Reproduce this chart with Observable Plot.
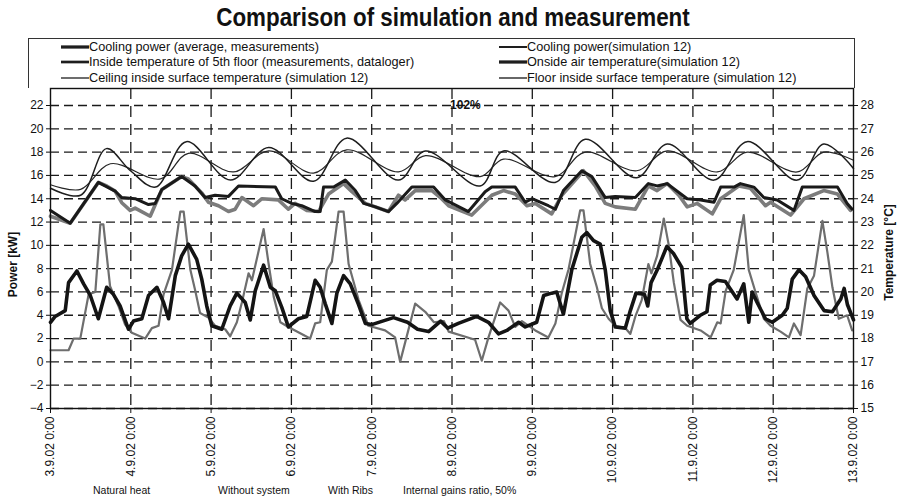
<!DOCTYPE html>
<html><head><meta charset="utf-8">
<script src="https://cdn.jsdelivr.net/npm/d3@7"></script>
<script src="https://cdn.jsdelivr.net/npm/@observablehq/plot@0.6"></script>
<style>
body{margin:0;background:#fff;}
#wrap{position:relative;width:903px;height:504px;overflow:hidden;font-family:"Liberation Sans",Arial,sans-serif;color:#111;}
#title{position:absolute;left:0;top:2px;width:906px;text-align:center;font-weight:bold;font-size:26px;line-height:30px;transform:scaleX(0.86);transform-origin:453px 0;}
#legend{position:absolute;left:28px;top:38px;width:825px;height:49px;border:1px solid #333;border-bottom:none;}
.li{position:absolute;display:flex;align-items:center;font-size:12.7px;white-space:nowrap;height:16px;}
#chart{position:absolute;left:0;top:88px;}
.note{position:absolute;top:484px;font-size:10.5px;white-space:nowrap;}
</style></head>
<body><div id="wrap">
<div id="title"></div>
<div id="legend"></div>
<div id="chart"></div>
</div>
<script>
// ---------- data (hours from 3.9.02 0:00, values) ----------
const titleText = "Comparison of simulation and measurement";
const dayCount = 10;
const powerTicks = [-4,-2,0,2,4,6,8,10,12,14,16,18,20,22];
const tempTicks = [15,16,17,18,19,20,21,22,23,24,25,26,27,28];

// Cooling power, average of measurements [kW]
const coolingPowerMeasured = [[0,3.4],[1.4,3.9],[4.4,4.4],[5.4,6.8],[7.9,7.8],[9.9,6.7],[11.9,5.7],[14.3,3.7],[16.8,6.4],[18.8,5.8],[20.8,4.8],[23.3,2.8],[24.8,3.5],[27.3,3.7],[29.3,5.7],[31.8,6.4],[33.8,5.1],[35.3,3.7],[37.3,7.4],[39.2,9.1],[41.2,10.1],[43.7,8.8],[45.2,7.1],[46.7,4.8],[48.2,3.1],[51.2,2.8],[53.7,4.8],[55.7,5.9],[58.2,5.1],[59.7,3.6],[61.2,6.1],[63.7,8.3],[65.7,6.4],[67.2,6.1],[69.1,4.7],[71.1,3.0],[74.1,3.7],[76.6,3.9],[79.1,7.0],[80.6,6.4],[82.1,5.0],[84.1,3.3],[85.6,5.9],[87.6,7.4],[89.6,6.7],[92.1,4.9],[94.1,3.3],[96.0,3.2],[102.5,3.8],[106.7,3.4],[109.7,2.8],[113.0,2.6],[116.6,3.5],[118.7,2.9],[121.9,3.3],[127.4,3.9],[130.9,3.4],[133.9,2.4],[136.4,2.7],[139.9,3.4],[141.9,3.0],[145.3,3.4],[147.4,5.7],[149.8,5.9],[151.3,6.0],[153.3,4.1],[155.8,7.9],[158.8,10.7],[160.3,11.1],[162.3,10.4],[164.3,10.1],[165.8,7.9],[167.3,4.4],[168.8,3.0],[171.8,2.9],[173.3,4.4],[175.0,5.9],[177.5,5.8],[178.5,4.8],[179.5,6.8],[181.5,8.0],[184.2,9.9],[186.2,9.3],[188.7,8.1],[190.2,3.7],[191.2,3.3],[194.2,4.0],[196.2,4.3],[197.2,6.6],[199.2,7.0],[201.7,6.9],[205.2,5.4],[207.2,6.7],[208.7,3.4],[209.7,6.0],[211.2,5.1],[213.7,3.7],[215.7,3.4],[218.7,4.0],[220.2,4.6],[221.7,7.1],[223.7,7.9],[225.7,7.3],[228.2,5.7],[231.2,4.4],[233.7,4.3],[236.2,5.4],[237.2,6.3],[238.2,4.9],[240,3.6]];

// Cooling power, simulation 12 [kW]
const coolingPowerSim = [[0,1.0],[5.4,1.0],[6.9,2.0],[8.9,2.0],[11.4,5.8],[13.4,6.0],[14.9,11.8],[15.8,11.8],[17.8,6.5],[20.3,4.8],[22.3,3.2],[24.3,2.5],[28.3,2.0],[30.3,2.9],[32.3,3.1],[33.8,5.8],[36.3,7.9],[38.8,12.9],[39.8,12.9],[41.8,7.9],[43.2,6.2],[44.7,4.2],[47.2,3.8],[49.2,3.1],[52.2,2.8],[53.7,2.2],[55.7,3.4],[57.2,5.1],[59.2,7.6],[60.2,7.0],[63.7,11.4],[65.2,8.4],[66.7,5.6],[68.7,3.4],[71.1,3.0],[77.6,2.0],[79.1,3.3],[80.6,3.4],[82.6,7.9],[84.1,8.6],[86.1,12.9],[87.6,12.9],[89.1,8.4],[92.1,5.3],[95.0,3.1],[100.0,2.7],[103.0,2.1],[104.5,0.0],[109.0,5.0],[112.0,4.3],[114.6,3.4],[117.6,3.5],[119.0,2.6],[126.9,1.9],[128.9,0.1],[130.9,2.1],[134.4,5.1],[136.9,4.4],[138.9,3.0],[140.9,3.5],[144.9,2.7],[148.8,2.1],[150.9,3.3],[152.8,5.9],[154.8,7.9],[158.3,13.0],[159.3,13.0],[161.3,8.4],[163.3,6.4],[164.8,4.6],[166.8,3.7],[168.8,3.1],[171.8,2.9],[173.3,2.4],[174.8,3.9],[176.7,5.3],[178.7,8.4],[179.6,7.6],[181.3,9.1],[183.3,12.3],[184.8,10.0],[186.3,6.8],[188.3,3.6],[190.3,3.1],[194.3,2.7],[197.3,2.1],[199.3,3.4],[200.3,3.3],[201.8,6.1],[204.2,7.9],[207.2,12.6],[208.7,7.9],[210.7,6.0],[213.2,3.7],[215.2,3.1],[218.2,2.6],[220.7,2.1],[222.2,3.3],[224.2,2.3],[226.2,6.3],[228.2,7.4],[230.7,12.1],[232.2,9.4],[233.7,6.4],[235.6,3.7],[238.1,4.0],[239.6,2.7]];

// Inside temperature of 5th floor, measurements [°C]
const insideTempMeasured = [[0,23.5],[5.9,22.95],[14.3,24.7],[19.3,24.33],[21.3,24.05],[25.3,24.0],[29.3,23.75],[31.3,23.8],[33.3,24.4],[39.2,24.95],[43.2,24.55],[46.2,24.05],[49.2,24.15],[53.2,24.1],[56.2,24.55],[67.2,24.5],[69.1,24.0],[72.1,23.8],[75.1,23.7],[79.1,23.45],[80.6,23.45],[81.6,24.5],[84.6,24.5],[88.1,24.8],[91.1,24.35],[93.6,23.8],[97.1,23.65],[101.0,23.45],[103.5,23.8],[108.0,24.5],[114.5,24.5],[118.0,23.95],[124.9,23.45],[129.9,24.3],[131.9,24.5],[138.9,24.5],[141.9,23.85],[143.9,24.0],[148.8,23.7],[150.9,23.55],[153.3,24.35],[158.8,25.2],[161.8,24.95],[165.8,24.05],[168.8,24.1],[174.8,24.05],[178.7,24.65],[181.3,24.55],[184.3,24.65],[190.3,24.0],[194.3,23.95],[198.3,23.85],[200.3,24.5],[204.3,24.5],[206.2,24.65],[210.2,24.5],[213.2,24.05],[217.2,23.95],[222.2,23.5],[224.7,24.5],[235.2,24.5],[238.1,23.8],[239.6,23.55]];

// Onside air temperature, simulation 12 [°C]
const airTempSim = [[0,23.25],[5.9,22.95],[14.3,24.7],[16.8,24.55],[19.3,24.33],[21.3,23.83],[23.8,23.5],[25.3,23.6],[29.8,23.25],[33.3,24.4],[39.2,24.95],[41.2,24.85],[45.2,24.25],[47.2,23.85],[50.2,23.7],[53.2,23.45],[55.2,23.55],[57.2,24.05],[59.2,23.85],[60.7,23.7],[63.2,24.0],[68.1,23.95],[71.1,23.55],[73.1,23.8],[76.6,23.5],[80.1,23.45],[83.1,24.2],[87.6,24.65],[90.1,24.3],[94.1,23.8],[101.0,23.45],[104.0,24.15],[106.0,23.95],[109.0,24.35],[114.0,24.35],[116.9,24.0],[119.0,23.7],[125.9,23.3],[131.9,24.15],[135.4,24.35],[138.9,24.2],[142.4,23.7],[144.9,23.8],[149.8,23.35],[152.8,24.15],[159.3,25.2],[162.8,24.55],[165.8,23.8],[168.8,23.65],[174.8,23.55],[178.7,24.55],[181.3,24.35],[184.3,24.65],[187.8,24.15],[190.3,23.65],[193.3,23.8],[197.8,23.35],[200.3,24.0],[205.7,24.55],[209.2,24.45],[213.7,23.7],[215.2,23.85],[221.2,23.3],[225.2,24.0],[231.1,24.35],[235.2,24.2],[239.1,23.5]];

// Floor inside surface temperature, simulation 12 [°C]
const floorSurfaceTemp = [[0,24.45],[9.0,24.15],[16.7,26.15],[23.9,25.2],[31.4,24.5],[40.6,26.45],[53.8,24.8],[65.2,26.2],[78.6,24.75],[88.5,26.6],[104.0,24.8],[112.0,26.05],[128.4,24.55],[135.4,26.05],[150.8,24.7],[159.8,26.55],[175.2,24.9],[184.3,26.35],[198.3,24.8],[208.2,26.45],[223.2,24.8],[231.1,26.35],[240,25.3]];

// Ceiling inside surface temperature, simulation 12 [°C]
const ceilingSurfaceTemp = [[0,24.6],[9.0,24.4],[17.9,25.5],[32.9,24.85],[41.2,25.95],[54.7,25.15],[65.2,26.05],[78.6,25.1],[88.5,26.1],[104.0,25.15],[112.1,25.85],[128.4,24.95],[135.4,25.7],[150.8,24.95],[159.8,26.0],[175.2,25.2],[184.3,26.05],[199.3,25.15],[208.2,26.0],[223.2,25.15],[231.1,26.0],[240,25.65]];

const legendLabels = [
  "Cooling power (average, measurements)",
  "Inside temperature of 5th floor (measurements, dataloger)",
  "Ceiling inside surface temperature (simulation 12)",
  "Cooling power(simulation 12)",
  "Onside air temperature(simulation 12)",
  "Floor inside surface temperature (simulation 12)"
];
const peakNote = {label: "102%", hour: 124, kW: 22};
const phaseNotes = ["Natural heat", "Without system", "With Ribs", "Internal gains ratio, 50%"];

// ---------- styles ----------
const S = {
  pMeas: {stroke: "#141414", strokeWidth: 3.6},
  pSim:  {stroke: "#6e6e6e", strokeWidth: 2.2},
  tMeas: {stroke: "#1a1a1a", strokeWidth: 3.0},
  tAir:  {stroke: "#7c7c7c", strokeWidth: 3.6},
  ceil:  {stroke: "#262626", strokeWidth: 1.2},
  floor: {stroke: "#1e1e1e", strokeWidth: 1.5}
};
const legendStyles = [S.pMeas, S.tMeas, S.ceil, S.pSim, S.tAir, S.floor];

// ---------- helpers ----------
const t0 = Date.UTC(2002, 8, 3);
const toDate = h => new Date(t0 + h * 3600e3);
const kwFromC = c => 2 * c - 34;   // right axis 15..28 °C maps to left -4..22 kW
const days = d3.range(0, dayCount + 1).map(d => new Date(t0 + d * 864e5));
const fmtDay = d => `${d.getUTCDate()}.${d.getUTCMonth() + 1}.02 0:00`;

document.getElementById("title").textContent = titleText;

// legend
const leg = document.getElementById("legend");
legendLabels.forEach((lab, i) => {
  const col = Math.floor(i / 3), row = i % 3;
  const st = legendStyles[i];
  const div = document.createElement("div");
  div.className = "li";
  div.style.left = (col === 0 ? 32 : 470) + "px";
  div.style.top = [0, 15, 31][row] + "px";
  const sw = Math.max(1.3, st.strokeWidth * 0.9);
  div.innerHTML = `<svg width="28" height="16"><line x1="0" y1="8" x2="28" y2="8" stroke="#1e1e1e" stroke-width="${sw}"/></svg><span>${lab}</span>`;
  leg.appendChild(div);
});

const pt = (conv) => ({x: d => toDate(d[0]), y: d => conv ? kwFromC(d[1]) : d[1]});

const chart = Plot.plot({
  width: 903, height: 392,
  marginTop: 0, marginBottom: 72, marginLeft: 50, marginRight: 50,
  style: {fontFamily: "'Liberation Sans', Arial, sans-serif", fontSize: "12px", color: "#111", background: "transparent", overflow: "visible"},
  x: {type: "utc", domain: [days[0], days[dayCount]]},
  y: {domain: [-4, 23.46]},
  marks: [
    Plot.gridY(powerTicks, {stroke: "#1a1a1a", strokeOpacity: 1, strokeWidth: 1.3, strokeDasharray: "9,5"}),
    Plot.gridX(days.slice(1, -1), {stroke: "#1a1a1a", strokeOpacity: 1, strokeWidth: 1.3, strokeDasharray: "11,7"}),
    Plot.line(ceilingSurfaceTemp, {...pt(true), ...S.ceil, curve: "catmull-rom"}),
    Plot.line(floorSurfaceTemp, {...pt(true), ...S.floor, curve: "catmull-rom"}),
    Plot.line(airTempSim, {...pt(true), ...S.tAir, strokeLinejoin: "round"}),
    Plot.line(insideTempMeasured, {...pt(true), ...S.tMeas, strokeLinejoin: "round"}),
    Plot.line(coolingPowerSim, {...pt(false), ...S.pSim, strokeLinejoin: "round"}),
    Plot.line(coolingPowerMeasured, {...pt(false), ...S.pMeas, strokeLinejoin: "round"}),
    Plot.axisY(powerTicks, {anchor: "left", tickSize: 4, tickPadding: 3, label: null, fontSize: 12}),
    Plot.axisY(tempTicks.map(kwFromC), {anchor: "right", tickSize: 4, tickPadding: 3, label: null, fontSize: 12, tickFormat: v => (v + 34) / 2}),
    Plot.axisX(days, {tickFormat: fmtDay, tickRotate: -90, tickSize: 5, tickPadding: 3, label: null, fontSize: 12}),
    Plot.frame({stroke: "#111", strokeWidth: 1.4}),
    Plot.text(["Power [kW]"], {text: d => d, frameAnchor: "left", dx: -37, dy: 16, rotate: -90, textAnchor: "middle", fontWeight: "bold", fontSize: 12}),
    Plot.text(["Temperature [°C]"], {text: d => d, frameAnchor: "right", dx: 36, dy: 4, rotate: -90, textAnchor: "middle", fontWeight: "bold", fontSize: 12}),
    Plot.text([peakNote], {x: d => toDate(d.hour), y: d => d.kW, text: d => d.label, fontWeight: "bold", fontSize: 12})
  ]
});
document.getElementById("chart").appendChild(chart);

// phase notes under the axis
const notePos = [93, 218, 328, 403];
const wrap = document.getElementById("wrap");
phaseNotes.forEach((t, i) => {
  const s = document.createElement("div");
  s.className = "note";
  s.style.left = notePos[i] + "px";
  s.textContent = t;
  wrap.appendChild(s);
});
</script>
</body></html>
